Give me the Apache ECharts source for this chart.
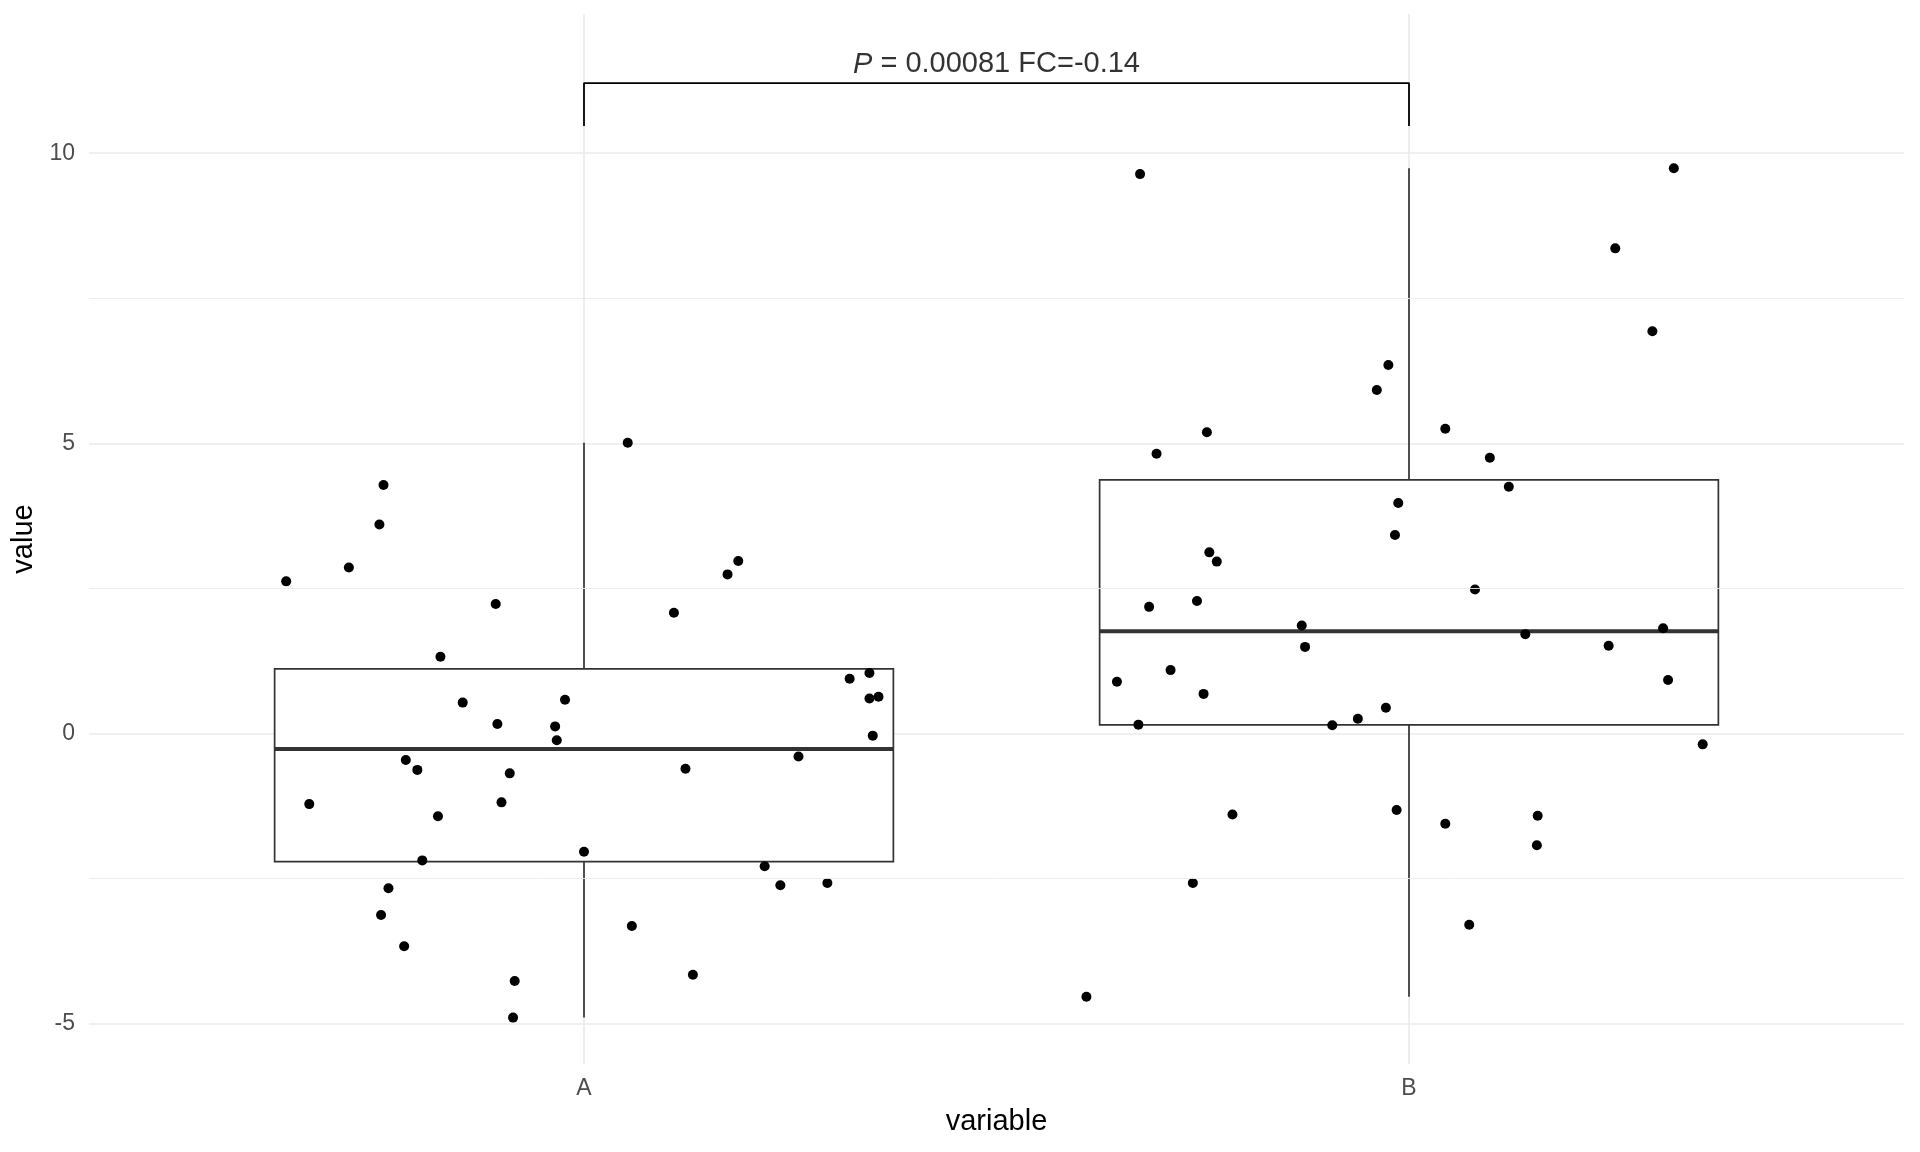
<!DOCTYPE html>
<html>
<head>
<meta charset="utf-8">
<script src="https://cdn.jsdelivr.net/npm/echarts@6/dist/echarts.min.js"></script>
<style>
html,body{margin:0;padding:0;background:#fff;}
#chart{width:1920px;height:1152px;}
</style>
</head>
<body>
<div id="chart"></div>
<script>
// ---- data ----
const categories = ['A', 'B'];
const catPos = [1, 2];
const yTicks = [-5, 0, 5, 10];
const yMinorTicks = [-2.5, 2.5, 7.5];

// jittered points, group A
const aX = [0.757,0.752,0.715,0.639,0.893,0.826,0.853,0.977,0.895,0.965,0.967,0.784,0.798,0.910,0.667,0.900,0.823,1.000,0.804,0.763,0.754,0.782,0.916,0.914,
            1.053,1.187,1.174,1.109,1.346,1.322,1.357,1.346,1.350,1.260,1.123,1.219,1.238,1.295,1.058,1.132];
const aY = [4.28,3.60,2.86,2.62,2.23,1.32,0.53,0.58,0.16,0.12,-0.12,-0.46,-0.63,-0.69,-1.22,-1.19,-1.43,-2.04,-2.19,-2.67,-3.13,-3.67,-4.27,-4.90,
            5.01,2.97,2.74,2.08,1.04,0.94,0.63,0.60,-0.04,-0.40,-0.61,-2.29,-2.62,-2.58,-3.32,-4.16];
// jittered points, group B
const bX = [1.674,1.975,1.961,1.755,1.694,1.987,1.983,1.758,1.767,1.685,1.743,1.870,1.874,1.711,1.646,1.751,1.972,1.938,1.907,1.672,1.985,1.786,1.738,1.609,
            2.321,2.250,2.295,2.044,2.098,2.121,2.080,2.141,2.308,2.242,2.314,2.356,2.044,2.156,2.155,2.073];
const bY = [9.64,6.35,5.92,5.19,4.82,3.97,3.42,3.12,2.96,2.18,2.28,1.86,1.49,1.09,0.89,0.68,0.44,0.25,0.14,0.15,-1.32,-1.40,-2.58,-4.54,
            9.74,8.36,6.93,5.25,4.75,4.25,2.48,1.71,1.81,1.51,0.92,-0.19,-1.56,-1.42,-1.93,-3.30];

// box statistics [min, Q1, median, Q3, max]
const boxA = [-4.90, -2.21, -0.27, 1.11, 5.01];
const boxB = [-4.54, 0.145, 1.76, 4.37, 9.74];

// significance bracket
const bracketX = [1, 2];
const bracketY = [10.47, 11.21];
const annotY = 11.53;
const pSymbol = 'P';
const pValue = '0.00081';
const fcValue = '-0.14';

// ---- chart ----
const FONT = '"Liberation Sans", Arial, sans-serif';
const GRID = '#EBEBEB';
const BOXW = 0.375;

const boxData = [[catPos[0]].concat(boxA), [catPos[1]].concat(boxB)];
const bracketData = [
  [bracketX[0], bracketY[0]], [bracketX[0], bracketY[1]],
  [bracketX[1], bracketY[1]], [bracketX[1], bracketY[0]]
];

const chart = echarts.init(document.getElementById('chart'), null, {renderer: 'canvas'});
chart.setOption({
  animation: false,
  backgroundColor: '#ffffff',
  textStyle: {fontFamily: FONT},
  grid: {left: 89, right: 16, top: 14, bottom: 88, containLabel: false},
  xAxis: {
    type: 'value', min: 0.4, max: 2.6,
    name: 'variable', nameLocation: 'middle', nameGap: 43,
    nameTextStyle: {fontSize: 29, color: '#000', fontFamily: FONT},
    axisLine: {show: false},
    axisTick: {show: false, customValues: catPos},
    axisLabel: {
      customValues: catPos, margin: 13, fontSize: 23, color: '#4D4D4D', fontFamily: FONT,
      formatter: v => categories[catPos.indexOf(Math.round(v))] || ''
    },
    splitLine: {show: true, lineStyle: {color: GRID, width: 1.7}}
  },
  yAxis: {
    type: 'value', min: -5.70, max: 12.40,
    name: 'value', nameLocation: 'middle', nameGap: 47,
    nameTextStyle: {fontSize: 29, color: '#000', fontFamily: FONT},
    axisLine: {show: false},
    axisTick: {show: false, customValues: yTicks},
    axisLabel: {customValues: yTicks, margin: 14, fontSize: 23, color: '#4D4D4D', fontFamily: FONT},
    splitLine: {show: true, lineStyle: {color: GRID, width: 1.7}}
  },
  series: [
    {
      type: 'line', data: [], silent: true, z: 0,
      markLine: {
        silent: true, symbol: ['none', 'none'], label: {show: false},
        lineStyle: {color: GRID, width: 0.9, type: 'solid'},
        data: yMinorTicks.map(v => ({yAxis: v}))
      }
    },
    {
      type: 'custom', z: 2, silent: true,
      encode: {x: 0, y: [1, 2, 3, 4, 5]},
      data: boxData,
      renderItem: function (params, api) {
        const x = api.value(0);
        const mn = api.value(1), q1 = api.value(2), md = api.value(3), q3 = api.value(4), mx = api.value(5);
        const tl = api.coord([x - BOXW, q3]);
        const br = api.coord([x + BOXW, q1]);
        const pMax = api.coord([x, mx]), pMin = api.coord([x, mn]);
        const pQ3 = api.coord([x, q3]), pQ1 = api.coord([x, q1]);
        const mL = api.coord([x - BOXW, md]), mR = api.coord([x + BOXW, md]);
        const st = {stroke: '#333333', lineWidth: 1.7};
        return {
          type: 'group',
          children: [
            {type: 'line', shape: {x1: pMax[0], y1: pMax[1], x2: pQ3[0], y2: pQ3[1]}, style: st},
            {type: 'line', shape: {x1: pQ1[0], y1: pQ1[1], x2: pMin[0], y2: pMin[1]}, style: st},
            {type: 'rect', shape: {x: tl[0], y: tl[1], width: br[0] - tl[0], height: br[1] - tl[1]},
              style: {fill: '#ffffff', stroke: '#333333', lineWidth: 1.7}},
            {type: 'line', shape: {x1: mL[0], y1: mL[1], x2: mR[0], y2: mR[1]},
              style: {stroke: '#333333', lineWidth: 3.8}}
          ]
        };
      }
    },
    {
      type: 'scatter', z: 3, silent: true, symbol: 'circle', symbolSize: 10,
      itemStyle: {color: '#000000', opacity: 1},
      data: aX.map((x, i) => [x, aY[i]])
    },
    {
      type: 'scatter', z: 3, silent: true, symbol: 'circle', symbolSize: 10,
      itemStyle: {color: '#000000', opacity: 1},
      data: bX.map((x, i) => [x, bY[i]])
    },
    {
      type: 'line', z: 4, silent: true, symbol: 'none',
      lineStyle: {color: '#000000', width: 1.8},
      data: bracketData
    },
    {
      type: 'scatter', z: 5, silent: true, symbolSize: 0,
      data: [[(bracketX[0] + bracketX[1]) / 2, annotY]],
      label: {
        show: true, position: 'inside',
        formatter: '{i|' + pSymbol + '} = ' + pValue + ' FC=' + fcValue,
        fontSize: 29, color: '#000000', fontFamily: FONT,
        rich: {i: {fontStyle: 'italic', fontSize: 29, color: '#000000', fontFamily: FONT}}
      }
    }
  ]
});
</script>
</body>
</html>
